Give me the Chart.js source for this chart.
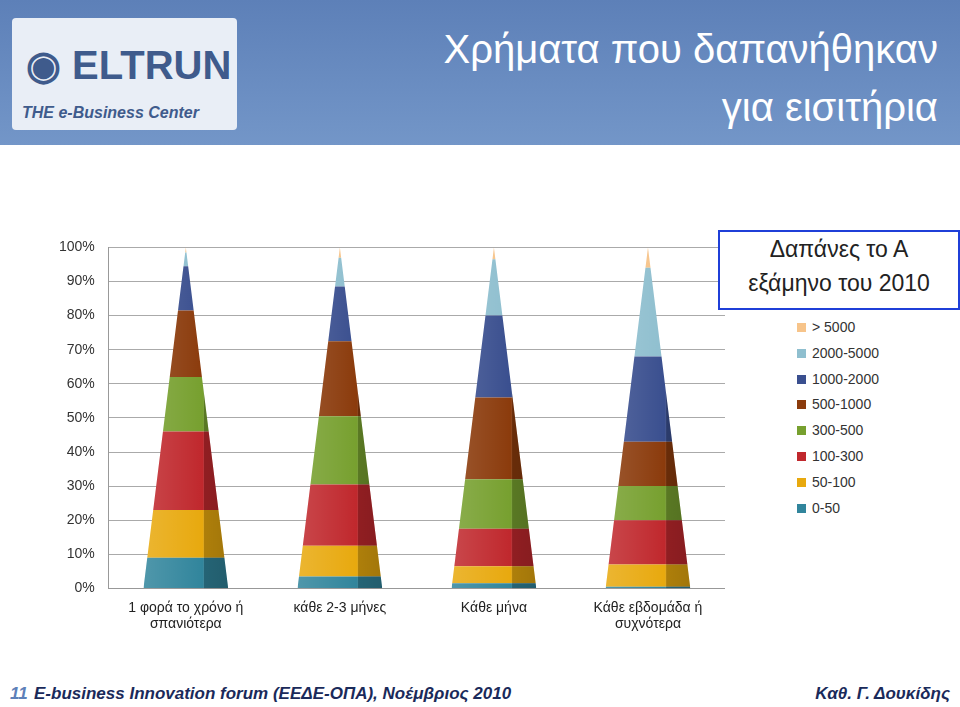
<!DOCTYPE html>
<html><head><meta charset="utf-8">
<script src="https://cdn.jsdelivr.net/npm/chart.js@4"></script>
<style>
body{margin:0;width:960px;height:707px;overflow:hidden;background:#fff;font-family:"Liberation Sans",Arial,sans-serif;position:relative}
#head{position:absolute;left:0;top:0;width:960px;height:145px;background:linear-gradient(#5d80b8,#7396c8)}
#logo{position:absolute;left:12px;top:18px;width:225px;height:112px;background:#e9eef6;border-radius:4px;color:#3f5b8c;font-weight:bold}
#title{position:absolute;right:22px;top:20px;color:#fff;font-size:40px;text-align:right;line-height:58px}
#wrap{position:absolute;left:45px;top:225px;width:680px;height:411px}
#ltitle{position:absolute;left:718px;top:230px;width:238px;height:76px;border:2px solid #1f3fd8;text-align:center;font-size:23px;line-height:34px;color:#222;background:#fff}
#legend{position:absolute;left:797px;top:315px;font-size:14px;color:#333;line-height:25.8px}
#legend i{display:inline-block;width:9px;height:9px;margin-right:6px}
#foot{position:absolute;left:0;top:684px;width:960px;font-size:17px;font-style:italic;font-weight:bold;color:#1a2a5a}
</style></head><body>
<div id="head"><div id="logo"><div style="position:absolute;left:14px;top:24px;font-size:40px;line-height:46px;white-space:nowrap">◉ ELTRUN</div><div style="position:absolute;left:10px;top:86px;font-size:16px;font-style:italic;white-space:nowrap">THE e-Business Center</div></div>
<div id="title">Χρήματα που δαπανήθηκαν<br>για εισιτήρια</div></div>
<div id="wrap"><canvas id="c"></canvas></div>
<div id="ltitle">Δαπάνες το Α<br>εξάμηνο του 2010</div>
<div id="legend"></div>
<div id="foot"><span style="position:absolute;left:10px;color:#5d80b8">11</span><span style="position:absolute;left:34px">E-business Innovation forum (ΕΕΔΕ-ΟΠΑ), Νοέμβριος 2010</span><span style="position:absolute;right:10px">Καθ. Γ. Δουκίδης</span></div>
<script>
const categories = [['1 φορά το χρόνο ή','σπανιότερα'], 'κάθε 2-3 μήνες', 'Κάθε μήνα', ['Κάθε εβδομάδα ή','συχνότερα']];
const seriesNames = ['0-50','50-100','100-300','300-500','500-1000','1000-2000','2000-5000','> 5000'];
const seriesColors = ['#31859c','#e8a90e','#c0282d','#77a02f','#8b3b0c','#3a4f8f','#8fbfcf','#f7c48a'];
const v0_50 = [9, 3.5, 1.5, 0.5];
const v50_100 = [14, 9, 5, 6.5];
const v100_300 = [23, 18, 11, 13];
const v300_500 = [16, 20, 14.5, 10];
const v500_1000 = [19.5, 22, 24, 13];
const v1000_2000 = [13, 16, 24, 25];
const v2000_5000 = [4, 8.5, 16.5, 26];
const vOver5000 = [1.5, 3, 3.5, 6];
const values = [v0_50, v50_100, v100_300, v300_500, v500_1000, v1000_2000, v2000_5000, vOver5000];
const yTicks = [0,10,20,30,40,50,60,70,80,90,100];

document.getElementById('legend').innerHTML = seriesNames.map((n, i) => ({ n, c: seriesColors[i] }))
  .reverse().map(s => `<div><i style="background:${s.c}"></i>${s.n}</div>`).join('');

const pyramid = {
  id: 'pyramid',
  beforeDatasetsDraw(chart) {
    const ctx = chart.ctx, y = chart.scales.y;
    ctx.save(); ctx.beginPath();
    chart.getDatasetMeta(0).data.forEach(bar => {
      const w = bar.width, cx = bar.x;
      ctx.moveTo(cx - w/2, y.getPixelForValue(0));
      ctx.lineTo(cx + w/2, y.getPixelForValue(0));
      ctx.lineTo(cx, y.getPixelForValue(100));
      ctx.closePath();
    });
    ctx.clip();
  },
  afterDatasetsDraw(chart) {
    const ctx = chart.ctx, y = chart.scales.y;
    chart.getDatasetMeta(0).data.forEach(bar => {
      const g = ctx.createLinearGradient(bar.x - bar.width/2, 0, bar.x + bar.width/2, 0);
      g.addColorStop(0, 'rgba(255,255,255,0.15)'); g.addColorStop(0.7, 'rgba(255,255,255,0)');
      g.addColorStop(0.72, 'rgba(0,0,0,0.25)'); g.addColorStop(1, 'rgba(0,0,0,0.3)');
      ctx.fillStyle = g;
      ctx.fillRect(bar.x - bar.width/2, y.getPixelForValue(100), bar.width, y.getPixelForValue(0) - y.getPixelForValue(100));
    });
    ctx.restore();
  }
};

new Chart(document.getElementById('c'), {
  type: 'bar',
  data: {
    labels: categories,
    datasets: seriesNames.map((n, i) => ({ label: n, data: values[i], backgroundColor: seriesColors[i], borderWidth: 0, barPercentage: 0.55, categoryPercentage: 1 }))
  },
  options: {
    responsive: true, maintainAspectRatio: false, animation: false,
    layout: { padding: { top: 8, right: 0, bottom: 0 } },
    scales: {
      x: { stacked: true, grid: { display: false }, ticks: { color: '#222', font: { size: 14 }, maxRotation: 0 } },
      y: { stacked: true, min: 0, max: 100, afterBuildTicks: s => { s.ticks = yTicks.map(v => ({ value: v })); },
           ticks: { color: '#333', font: { size: 14 }, padding: 14, callback: v => v + '%' }, grid: { color: '#aaa', tickLength: 0 }, border: { color: '#999' } }
    },
    plugins: { legend: { display: false }, tooltip: { enabled: false } }
  },
  plugins: [pyramid]
});
</script>
</body></html>
